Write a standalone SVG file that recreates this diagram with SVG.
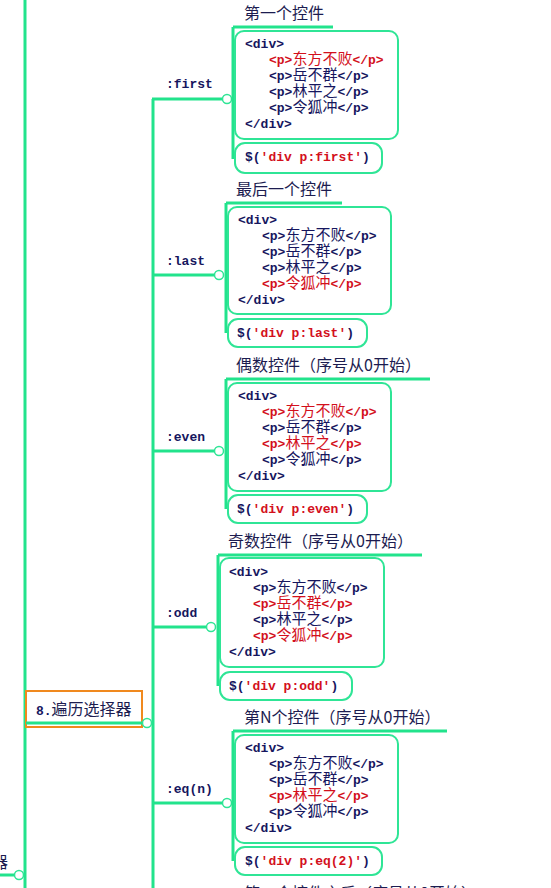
<svg xmlns="http://www.w3.org/2000/svg" width="551" height="888" viewBox="0 0 551 888">
<style>
.ln{stroke:#22e38c;stroke-width:3;fill:none}
.bx{stroke:#2fe596;stroke-width:2;fill:#fff}
.dot{stroke:#2fe596;stroke-width:1.5;fill:#fff}
.org{stroke:#f0891e;stroke-width:2;fill:#fff}
.code{font-family:"Liberation Mono","DejaVu Sans Mono",monospace;font-weight:bold;font-size:13px;fill:#16165e}
.cjk{font-family:"Noto Sans CJK SC",sans-serif;font-weight:normal;font-size:15px}
.ttl{font-family:"Noto Sans CJK SC",sans-serif;font-size:16px;fill:#1c1c50}
.r{fill:#d3101c}
</style>
<rect width="551" height="888" fill="#fff"/>
<g id="connectors">
<line class="ln" x1="25" y1="0" x2="25" y2="888"/>
<line class="ln" x1="0" y1="875" x2="15" y2="875"/>
<line class="ln" x1="153" y1="99" x2="153" y2="888"/>
<line class="ln" x1="26" y1="723" x2="143" y2="723"/>
<line class="ln" x1="152" y1="99" x2="223" y2="99"/>
<line class="ln" x1="152" y1="275" x2="215" y2="275"/>
<line class="ln" x1="152" y1="451" x2="215" y2="451"/>
<line class="ln" x1="152" y1="627" x2="207" y2="627"/>
<line class="ln" x1="152" y1="803" x2="223" y2="803"/>
</g>
<g id="n-left">
<text class="ttl" x="-8" y="868">器</text>
<circle class="dot" cx="19" cy="875" r="4.5"/>
</g>
<g id="n-traverse">
<rect class="org" x="26" y="691" width="116" height="36"/>
<line class="ln" x1="26" y1="723" x2="142" y2="723"/>
<text class="ttl" x="36" y="715"><tspan class="code" font-size="13">8.</tspan>遍历选择器</text>
<circle class="dot" cx="147" cy="723" r="4.5"/>
</g>
<g id="lbl-first"><text class="code" x="166" y="88">:first</text><circle class="dot" cx="227" cy="99" r="4.5"/></g>
<g id="lbl-last"><text class="code" x="166" y="265">:last</text><circle class="dot" cx="219" cy="275" r="4.5"/></g>
<g id="lbl-even"><text class="code" x="166" y="441">:even</text><circle class="dot" cx="219" cy="451" r="4.5"/></g>
<g id="lbl-odd"><text class="code" x="166" y="617">:odd</text><circle class="dot" cx="211" cy="627" r="4.5"/></g>
<g id="lbl-eq"><text class="code" x="166" y="793">:eq(n)</text><circle class="dot" cx="227" cy="803" r="4.5"/></g>

<g id="g-first" transform="translate(233,27)">
<text class="ttl" x="11" y="-8">第一个控件</text>
<line class="ln" x1="0" y1="0" x2="100" y2="0"/>
<line class="ln" x1="0" y1="0" x2="0" y2="132"/>
<rect class="bx" x="2" y="4" width="163" height="108" rx="9"/>
<text class="code" x="12" y="21">&lt;div&gt;</text>
<text class="code r" x="36" y="37">&lt;p&gt;<tspan class="cjk">东方不败</tspan>&lt;/p&gt;</text>
<text class="code" x="36" y="53">&lt;p&gt;<tspan class="cjk">岳不群</tspan>&lt;/p&gt;</text>
<text class="code" x="36" y="69">&lt;p&gt;<tspan class="cjk">林平之</tspan>&lt;/p&gt;</text>
<text class="code" x="36" y="85">&lt;p&gt;<tspan class="cjk">令狐冲</tspan>&lt;/p&gt;</text>
<text class="code" x="12" y="101">&lt;/div&gt;</text>
<rect class="bx" x="2" y="116" width="147" height="30" rx="10"/>
<text class="code" x="12" y="134">$(<tspan class="r">'div p:first'</tspan>)</text>
</g>

<g id="g-last" transform="translate(226,203)">
<text class="ttl" x="10" y="-8">最后一个控件</text>
<line class="ln" x1="0" y1="0" x2="116" y2="0"/>
<line class="ln" x1="0" y1="0" x2="0" y2="130"/>
<rect class="bx" x="2" y="4" width="163" height="107" rx="9"/>
<text class="code" x="12" y="21">&lt;div&gt;</text>
<text class="code" x="36" y="37">&lt;p&gt;<tspan class="cjk">东方不败</tspan>&lt;/p&gt;</text>
<text class="code" x="36" y="53">&lt;p&gt;<tspan class="cjk">岳不群</tspan>&lt;/p&gt;</text>
<text class="code" x="36" y="69">&lt;p&gt;<tspan class="cjk">林平之</tspan>&lt;/p&gt;</text>
<text class="code r" x="36" y="85">&lt;p&gt;<tspan class="cjk">令狐冲</tspan>&lt;/p&gt;</text>
<text class="code" x="12" y="101">&lt;/div&gt;</text>
<rect class="bx" x="2" y="116" width="139" height="28" rx="10"/>
<text class="code" x="11" y="134">$(<tspan class="r">'div p:last'</tspan>)</text>
</g>

<g id="g-even" transform="translate(226,379)">
<text class="ttl" x="10" y="-8">偶数控件（序号从0开始）</text>
<line class="ln" x1="0" y1="0" x2="204" y2="0"/>
<line class="ln" x1="0" y1="0" x2="0" y2="130"/>
<rect class="bx" x="2" y="4" width="163" height="108" rx="9"/>
<text class="code" x="12" y="21">&lt;div&gt;</text>
<text class="code r" x="36" y="37">&lt;p&gt;<tspan class="cjk">东方不败</tspan>&lt;/p&gt;</text>
<text class="code" x="36" y="53">&lt;p&gt;<tspan class="cjk">岳不群</tspan>&lt;/p&gt;</text>
<text class="code r" x="36" y="69">&lt;p&gt;<tspan class="cjk">林平之</tspan>&lt;/p&gt;</text>
<text class="code" x="36" y="85">&lt;p&gt;<tspan class="cjk">令狐冲</tspan>&lt;/p&gt;</text>
<text class="code" x="12" y="101">&lt;/div&gt;</text>
<rect class="bx" x="2" y="116" width="139" height="28" rx="10"/>
<text class="code" x="11" y="134">$(<tspan class="r">'div p:even'</tspan>)</text>
</g>

<g id="g-odd" transform="translate(218,555)">
<text class="ttl" x="10" y="-8">奇数控件（序号从0开始）</text>
<line class="ln" x1="0" y1="0" x2="204" y2="0"/>
<line class="ln" x1="0" y1="0" x2="0" y2="131"/>
<rect class="bx" x="2" y="3" width="164" height="109" rx="9"/>
<text class="code" x="11" y="21">&lt;div&gt;</text>
<text class="code" x="35" y="37">&lt;p&gt;<tspan class="cjk">东方不败</tspan>&lt;/p&gt;</text>
<text class="code r" x="35" y="53">&lt;p&gt;<tspan class="cjk">岳不群</tspan>&lt;/p&gt;</text>
<text class="code" x="35" y="69">&lt;p&gt;<tspan class="cjk">林平之</tspan>&lt;/p&gt;</text>
<text class="code r" x="35" y="85">&lt;p&gt;<tspan class="cjk">令狐冲</tspan>&lt;/p&gt;</text>
<text class="code" x="11" y="101">&lt;/div&gt;</text>
<rect class="bx" x="2" y="117" width="132" height="28" rx="10"/>
<text class="code" x="11" y="135">$(<tspan class="r">'div p:odd'</tspan>)</text>
</g>

<g id="g-eq" transform="translate(233,731)">
<text class="ttl" x="11" y="-8">第N个控件（序号从0开始）</text>
<line class="ln" x1="0" y1="0" x2="214" y2="0"/>
<line class="ln" x1="0" y1="0" x2="0" y2="130"/>
<rect class="bx" x="2" y="4" width="163" height="108" rx="9"/>
<text class="code" x="12" y="21">&lt;div&gt;</text>
<text class="code" x="36" y="37">&lt;p&gt;<tspan class="cjk">东方不败</tspan>&lt;/p&gt;</text>
<text class="code" x="36" y="53">&lt;p&gt;<tspan class="cjk">岳不群</tspan>&lt;/p&gt;</text>
<text class="code r" x="36" y="69">&lt;p&gt;<tspan class="cjk">林平之</tspan>&lt;/p&gt;</text>
<text class="code" x="36" y="85">&lt;p&gt;<tspan class="cjk">令狐冲</tspan>&lt;/p&gt;</text>
<text class="code" x="12" y="101">&lt;/div&gt;</text>
<rect class="bx" x="2" y="116" width="147" height="28" rx="10"/>
<text class="code" x="12" y="134">$(<tspan class="r">'div p:eq(2)'</tspan>)</text>
</g>

<g id="g-next" transform="translate(233,907)">
<text class="ttl" x="11" y="-8">第一个控件之后（序号从0开始）</text>
</g>
</svg>
